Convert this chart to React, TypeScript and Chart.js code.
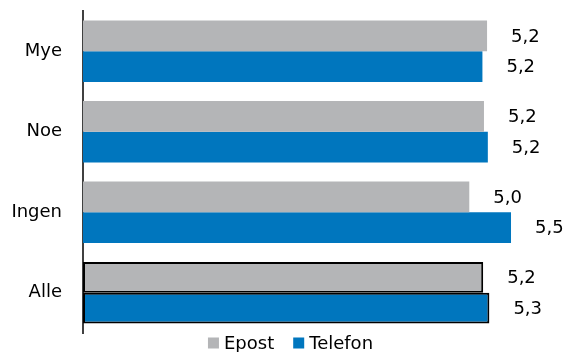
import React, { useEffect, useRef } from "react";
import { Chart, registerables } from "chart.js";

Chart.register(...registerables);

const categories = ["Mye", "Noe", "Ingen", "Alle"];
const seriesNames = ["Epost", "Telefon"];
const epost = [5.23, 5.19, 5.0, 5.18];
const telefon = [5.17, 5.24, 5.54, 5.26];
const xMin = 0;
const xMax = 6.2;

const FONT = "'DejaVu Sans', sans-serif";
const GRAY = "#b4b5b7";
const BLUE = "#0076be";

const valueLabels = {
  id: "valueLabels",
  afterDatasetsDraw(chart: any) {
    const ctx = chart.ctx;
    ctx.save();
    ctx.font = `18px ${FONT}`;
    ctx.fillStyle = "#000";
    ctx.textAlign = "left";
    ctx.textBaseline = "middle";
    chart.data.datasets.forEach((ds: any, di: number) => {
      const meta = chart.getDatasetMeta(di);
      meta.data.forEach((el: any, i: number) => {
        const v = ds.data[i] as number;
        ctx.fillText(v.toFixed(1).replace(".", ","), el.x + 24, el.y + 1);
      });
    });
    ctx.restore();
  },
};

const customLegend = {
  id: "customLegend",
  afterDraw(chart: any) {
    const ctx = chart.ctx;
    ctx.save();
    ctx.font = `18px ${FONT}`;
    ctx.textAlign = "left";
    ctx.textBaseline = "alphabetic";
    const box = 11;
    const gapText = 5;
    const gapItem = 19;
    const items = chart.data.datasets.map((ds: any) => ({
      label: ds.label as string,
      color: ds.legendColor as string,
      w: ctx.measureText(ds.label).width,
    }));
    let total = 0;
    items.forEach((it: any, i: number) => {
      total += box + gapText + it.w + (i < items.length - 1 ? gapItem : 0);
    });
    let x = 290.5 - total / 2;
    const baseline = 349;
    items.forEach((it: any) => {
      ctx.fillStyle = it.color;
      ctx.fillRect(x, 337.5, box, box);
      x += box + gapText;
      ctx.fillStyle = "#000";
      ctx.fillText(it.label, x, baseline);
      x += it.w + gapItem;
    });
    ctx.restore();
  },
};

export default function App() {
  const ref = useRef<HTMLCanvasElement | null>(null);

  useEffect(() => {
    if (!ref.current) return;
    const chart = new Chart(ref.current, {
      type: "bar",
      data: {
        labels: categories,
        datasets: [
          {
            label: seriesNames[0],
            data: epost,
            backgroundColor: GRAY,
            borderColor: "#000",
            borderWidth: [0, 0, 0, 2],
            borderSkipped: false,
            categoryPercentage: 0.766,
            barPercentage: 1.0,
            legendColor: GRAY,
          } as any,
          {
            label: seriesNames[1],
            data: telefon,
            backgroundColor: BLUE,
            borderColor: "#000",
            borderWidth: [0, 0, 0, 2],
            borderSkipped: false,
            categoryPercentage: 0.766,
            barPercentage: 1.0,
            legendColor: BLUE,
          } as any,
        ],
      },
      options: {
        indexAxis: "y",
        responsive: false,
        animation: false,
        maintainAspectRatio: false,
        layout: { padding: { left: 0, right: 2, top: 11, bottom: 19 } },
        plugins: {
          legend: { display: false },
          tooltip: { enabled: false },
        },
        scales: {
          x: {
            display: false,
            min: xMin,
            max: xMax,
          },
          y: {
            grid: { display: false, drawTicks: false },
            border: { display: true, color: "#404040", width: 2 },
            ticks: {
              font: { family: FONT, size: 18 },
              color: "#000",
              padding: 21,
            },
            afterFit(scale: any) {
              scale.width = 83;
              scale.paddingTop = 0;
              scale.paddingBottom = 0;
            },
          },
        },
      },
      plugins: [valueLabels, customLegend],
    });
    return () => chart.destroy();
  }, []);

  return (
    <div style={{ position: "fixed", left: 0, top: 0, width: 564, height: 352, background: "#fff" }}>
      <canvas ref={ref} width={564} height={352} style={{ display: "block" }} />
    </div>
  );
}
